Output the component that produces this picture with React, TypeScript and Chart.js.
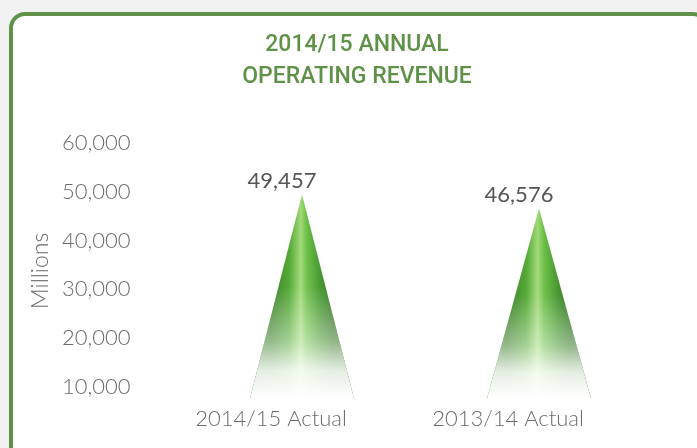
import React, { useEffect, useRef } from "react";
import { Chart, registerables } from "chart.js";

Chart.register(...registerables);

const categories = ["2014/15 Actual", "2013/14 Actual"];
const revenue = [49457, 46576];
const yTicks = [10000, 20000, 30000, 40000, 50000, 60000];
const titleLines = ["2014/15 ANNUAL", "OPERATING REVENUE"];
const yTitle = "Millions";

const GREEN = "#5f9148";
const GRAY = "#6b6b6b";
const fmt = (v: number) => v.toLocaleString("en-US");
const TICK_FONT = "Lato, 'DejaVu Sans', sans-serif";

const titlePlugin = {
  id: "boxTitle",
  afterDraw(chart: any) {
    const ctx = chart.ctx as CanvasRenderingContext2D;
    ctx.save();
    ctx.fillStyle = GREEN;
    ctx.font = "500 23px Roboto, 'Noto Sans', sans-serif";
    ctx.textAlign = "center";
    ctx.textBaseline = "middle";
    titleLines.forEach((t, i) => ctx.fillText(t, 357, 45 + i * 32));
    ctx.restore();
  },
};

const conePlugin = {
  id: "cones",
  afterDatasetsDraw(chart: any) {
    const ctx = chart.ctx as CanvasRenderingContext2D;
    const meta = chart.getDatasetMeta(0);
    const shift = 31;
    meta.data.forEach((el: any, i: number) => {
      const p = el.getProps(["x", "y", "base", "width"], true);
      const cx = p.x + shift;
      const tip = p.y;
      const base = Math.min(p.base, chart.chartArea.bottom);
      const hw = p.width / 2;
      ctx.save();
      ctx.beginPath();
      ctx.moveTo(cx, tip);
      ctx.lineTo(cx + hw, base);
      ctx.lineTo(cx - hw, base);
      ctx.closePath();
      const hg = ctx.createLinearGradient(cx - hw * 0.6, 0, cx + hw * 0.6, 0);
      hg.addColorStop(0, "#2c7418");
      hg.addColorStop(0.3, "#4aa52a");
      hg.addColorStop(0.48, "#9fd874");
      hg.addColorStop(0.58, "#66bd40");
      hg.addColorStop(0.8, "#3a8f22");
      hg.addColorStop(1, "#276c14");
      ctx.fillStyle = hg;
      ctx.fill();
      const vg = ctx.createLinearGradient(0, tip, 0, base);
      vg.addColorStop(0, "rgba(255,255,255,0)");
      vg.addColorStop(0.45, "rgba(255,255,255,0.08)");
      vg.addColorStop(0.72, "rgba(255,255,255,0.5)");
      vg.addColorStop(0.86, "rgba(255,255,255,0.88)");
      vg.addColorStop(1, "rgba(255,255,255,1)");
      ctx.fillStyle = vg;
      ctx.fill();
      ctx.restore();

      ctx.save();
      ctx.fillStyle = "#555555";
      ctx.font = `22px ${TICK_FONT}`;
      ctx.textAlign = "center";
      ctx.textBaseline = "middle";
      ctx.fillText(fmt(revenue[i]), cx - 20, tip - 14);
      ctx.restore();
    });
  },
};

export default function App() {
  const ref = useRef<HTMLCanvasElement | null>(null);
  useEffect(() => {
    if (!ref.current) return;
    const chart = new Chart(ref.current, {
      type: "bar",
      data: {
        labels: categories,
        datasets: [
          {
            data: revenue,
            backgroundColor: "rgba(0,0,0,0)",
            borderWidth: 0,
            categoryPercentage: 0.44,
            barPercentage: 1,
          },
        ],
      },
      options: {
        animation: false,
        responsive: false,
        maintainAspectRatio: false,
        layout: { padding: { left: 23, right: 70.5, top: 143, bottom: 0 } },
        plugins: {
          legend: { display: false },
          tooltip: { enabled: false },
          title: { display: false },
        },
        scales: {
          x: {
            grid: { display: false, drawTicks: false },
            border: { display: false },
            ticks: {
              color: GRAY,
              padding: 7,
              font: { family: TICK_FONT, size: 22, weight: "300" },
            },
            afterFit(scale: any) {
              scale.height = 49;
            },
          },
          y: {
            min: 7500,
            max: 60000,
            grid: { display: false, drawTicks: false },
            border: { display: false },
            afterBuildTicks(scale: any) {
              scale.ticks = yTicks.map((v) => ({ value: v }));
            },
            ticks: {
              color: GRAY,
              padding: 22,
              font: { family: TICK_FONT, size: 22, weight: "300" },
              callback: (v: any) => fmt(Number(v)),
            },
            title: {
              display: true,
              text: yTitle,
              color: GRAY,
              font: { family: TICK_FONT, size: 23, weight: "300" },
              padding: { top: 4, bottom: 0 },
            },
            afterFit(scale: any) {
              scale.width = 152.5 - 23;
            },
          },
        },
      },
      plugins: [conePlugin, titlePlugin],
    });
    return () => chart.destroy();
  }, []);

  return (
    <div
      style={{
        position: "fixed",
        left: 0,
        top: 0,
        width: 697,
        height: 448,
        background: "#f2f2f2",
        overflow: "hidden",
      }}
    >
      <div
        style={{
          position: "absolute",
          left: 9,
          top: 12,
          width: 700,
          height: 460,
          boxSizing: "border-box",
          border: `4.5px solid ${GREEN}`,
          borderRadius: 16,
          background: "#ffffff",
        }}
      />
      <canvas
        ref={ref}
        width={697}
        height={448}
        style={{ position: "absolute", left: 0, top: 0, width: 697, height: 448 }}
      />
    </div>
  );
}
